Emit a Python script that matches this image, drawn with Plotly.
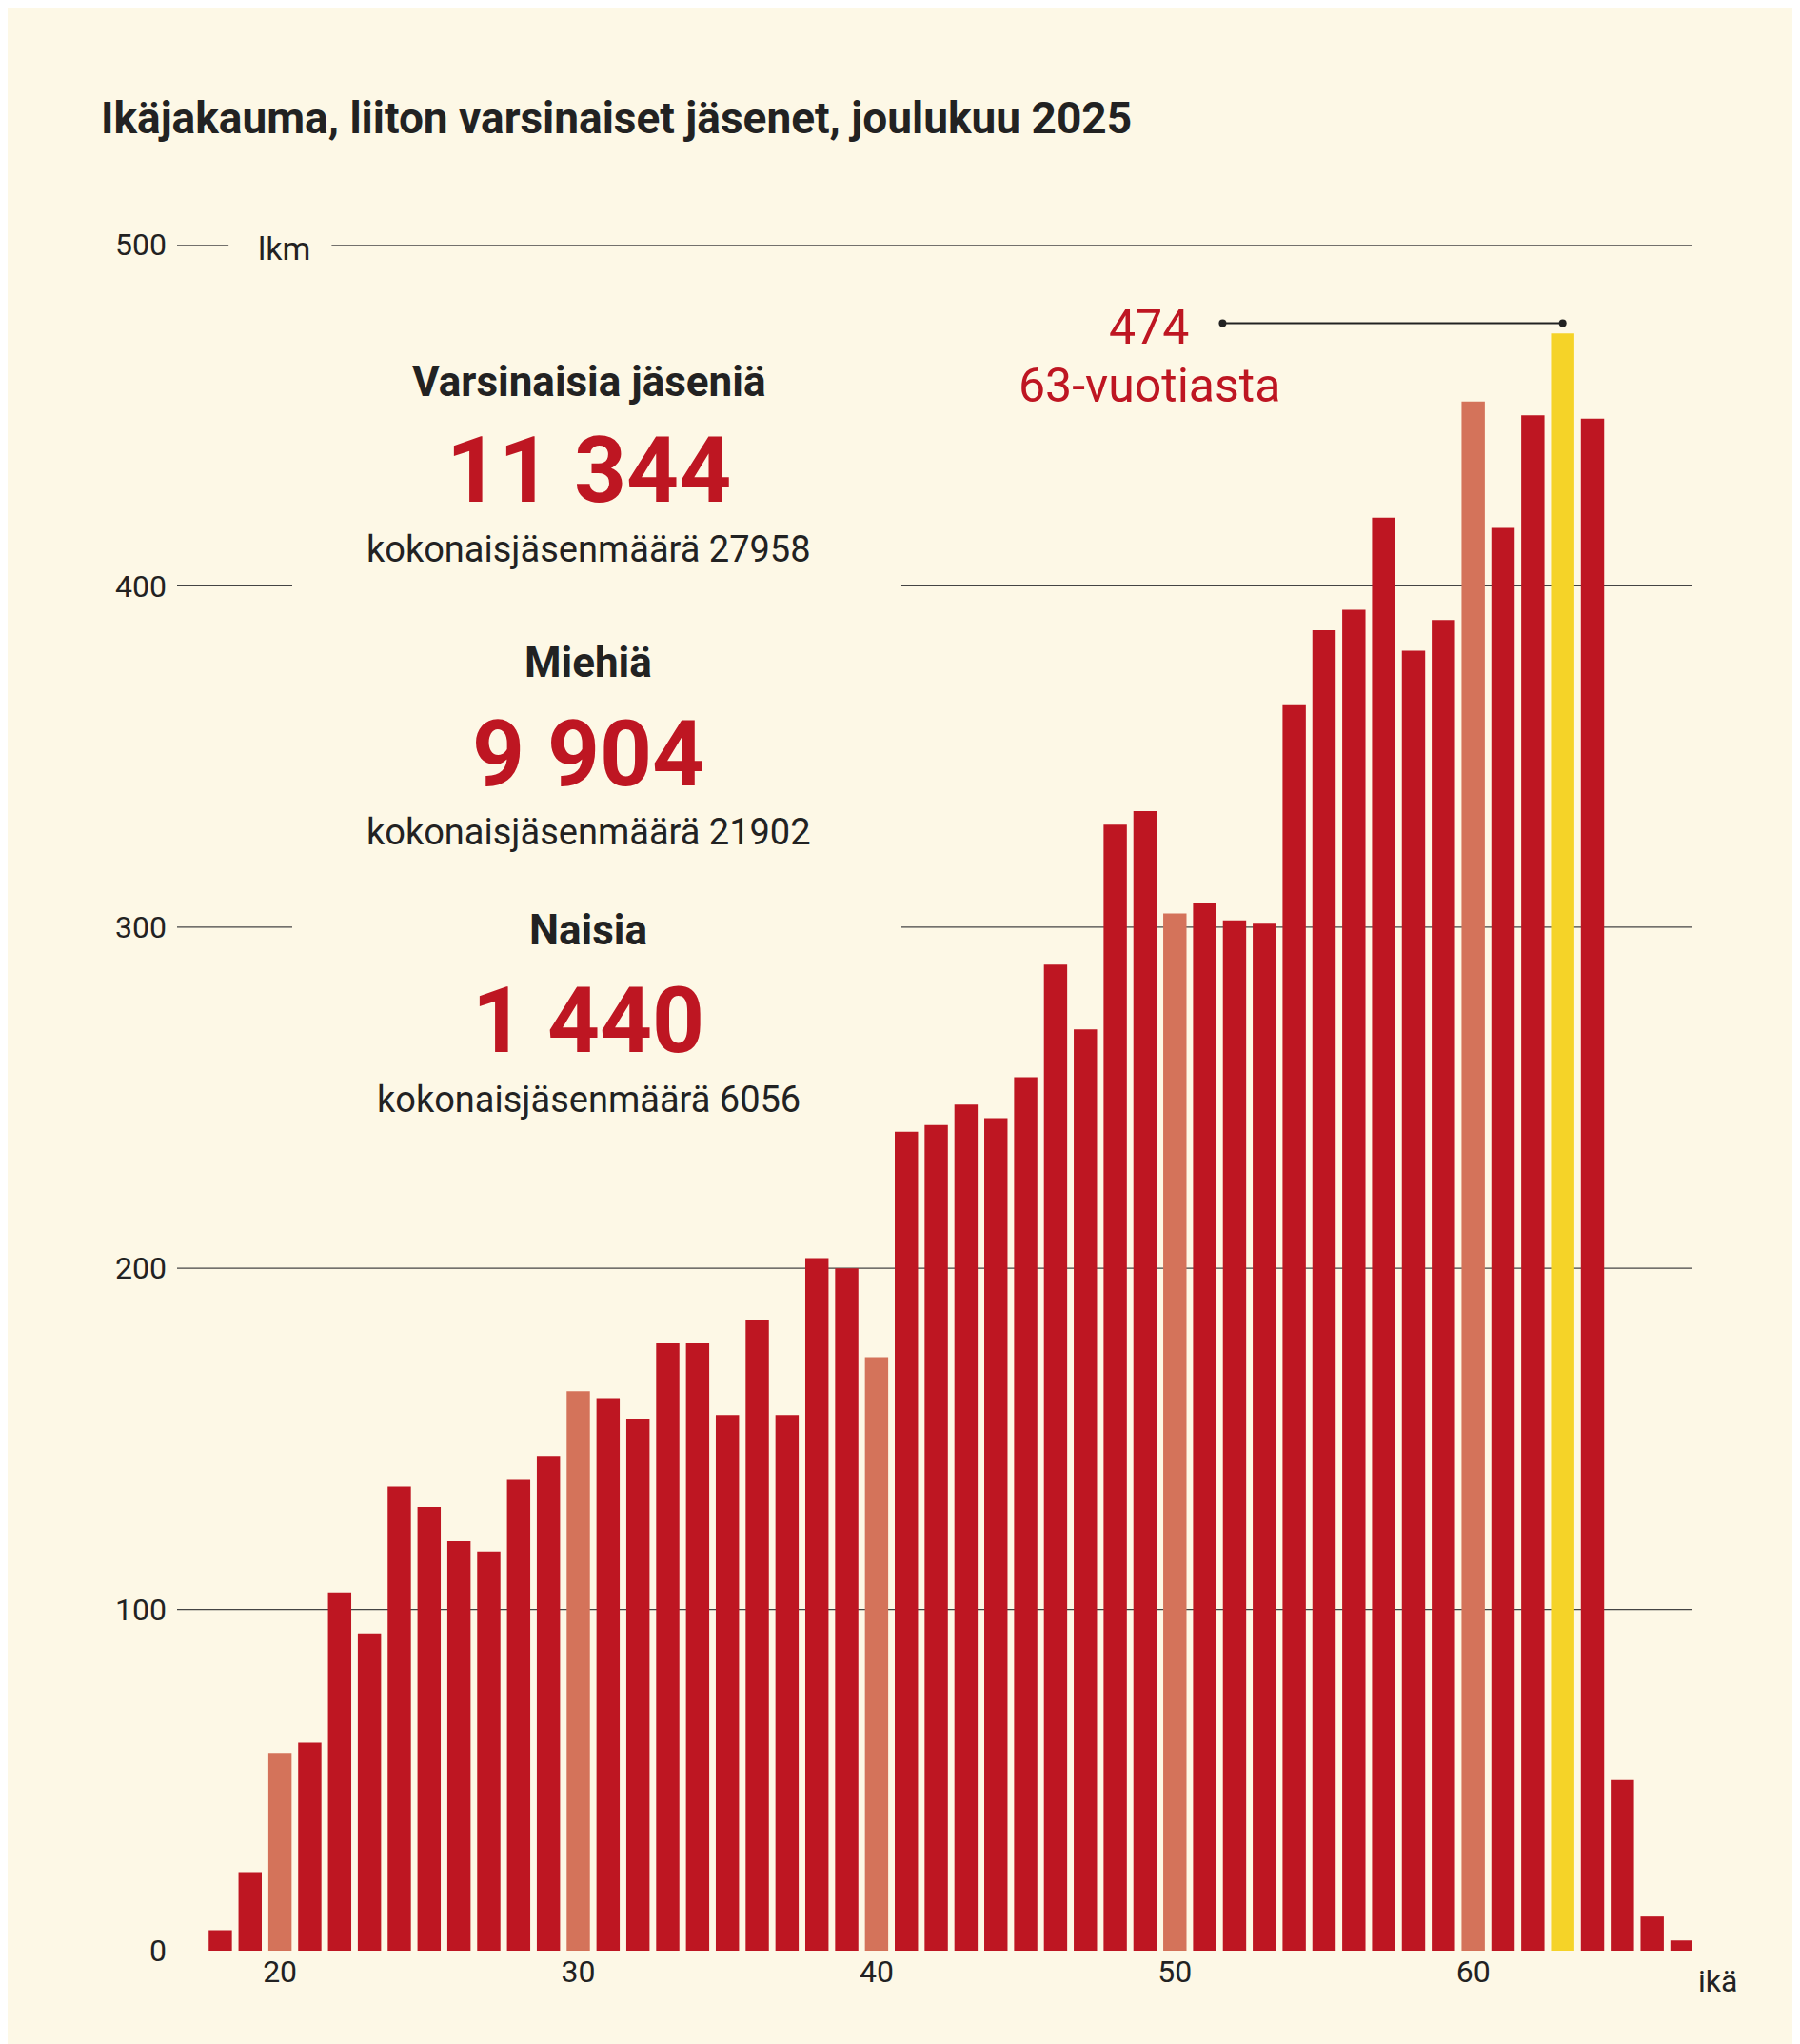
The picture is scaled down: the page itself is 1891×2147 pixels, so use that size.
import plotly.graph_objects as go

ages = list(range(18, 68))
counts = [6, 23, 58, 61, 105, 93, 136, 130, 120, 117, 138, 145, 164, 162, 156, 178, 178, 157,
          185, 157, 203, 200, 174, 240, 242, 248, 244, 256, 289, 270, 330, 334, 304, 307, 302,
          301, 365, 387, 393, 420, 381, 390, 454, 417, 450, 474, 449, 50, 10, 3]

RED = "#BE1622"
SALMON = "#D4735A"
YELLOW = "#F5D328"
BG = "#FDF8E6"
INK = "#222222"
FONT = "Roboto"

colors = []
for a in ages:
    if a == 63:
        colors.append(YELLOW)
    elif a % 10 == 0:
        colors.append(SALMON)
    else:
        colors.append(RED)

fig = go.Figure(go.Bar(x=ages, y=counts, marker_color=colors, marker_line_width=0, width=0.78))

# gridlines with gaps where text sits (paper x)
grid = [(500, [(0, 0.034), (0.102, 1)]),
        (400, [(0, 0.076), (0.478, 1)]),
        (300, [(0, 0.076), (0.478, 1)]),
        (200, [(0, 1)]),
        (100, [(0, 1)])]
for yv, segs in grid:
    for x0, x1 in segs:
        fig.add_shape(type="line", xref="paper", yref="y", x0=x0, x1=x1, y0=yv, y1=yv,
                      line=dict(color="#444444", width=1.3), layer="below")

W, H = 1891, 2147

def px_ann(text, x, y, size, color=INK, bold=False, xanchor="center"):
    fig.add_annotation(text=f"<b>{text}</b>" if bold else text, xref="paper", yref="paper",
                       x=(x - 178) / (W - 178 - 121), y=1 - (y - 249) / (H - 249 - 106),
                       showarrow=False, xanchor=xanchor, yanchor="middle",
                       font=dict(family=FONT, size=size, color=color))

px_ann("Ikäjakauma, liiton varsinaiset jäsenet, joulukuu 2025", 96, 116, 46, bold=True, xanchor="left")
px_ann("lkm", 290, 253, 34)
px_ann("Varsinaisia jäseniä", 610, 393, 44, bold=True)
px_ann("11 344", 610, 486, 96, RED, bold=True)
px_ann("kokonaisjäsenmäärä 27958", 610, 569, 38)
px_ann("Miehiä", 610, 688, 44, bold=True)
px_ann("9 904", 610, 784, 96, RED, bold=True)
px_ann("kokonaisjäsenmäärä 21902", 610, 866, 38)
px_ann("Naisia", 610, 969, 44, bold=True)
px_ann("1 440", 610, 1064, 96, RED, bold=True)
px_ann("kokonaisjäsenmäärä 6056", 610, 1147, 38)
px_ann("474", 1199, 336, 50, RED)
px_ann("63-vuotiasta", 1199, 397, 50, RED)
px_ann("ikä", 1797, 2073, 32)

fig.add_shape(type="line", x0=51.6, x1=63, y0=477, y1=477, line=dict(color=INK, width=2))
fig.add_trace(go.Scatter(x=[51.6, 63], y=[477, 477], mode="markers",
                         marker=dict(color=INK, size=8), hoverinfo="skip"))

fig.update_layout(
    width=W, height=H, paper_bgcolor=BG, plot_bgcolor=BG, showlegend=False,
    margin=dict(l=178, r=121, t=249, b=106),
    xaxis=dict(range=[16.55, 67.35], tickvals=[20, 30, 40, 50, 60], showgrid=False,
               zeroline=False, showline=False, ticks="",
               tickfont=dict(family=FONT, size=32, color=INK)),
    yaxis=dict(range=[0, 500], tickvals=[0, 100, 200, 300, 400, 500], showgrid=False,
               zeroline=False, ticks="", ticklabelstandoff=10,
               tickfont=dict(family=FONT, size=32, color=INK)),
)
fig.write_html("out.html")
